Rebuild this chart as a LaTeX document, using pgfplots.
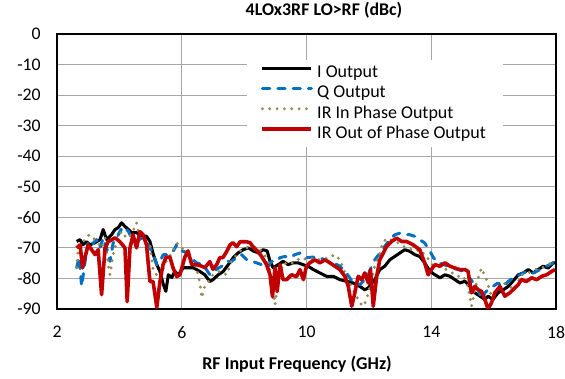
\documentclass[border=0pt]{standalone}
\usepackage{pgfplots}
\pgfplotsset{compat=1.18}
\usepackage{fontspec}
\setmainfont{Carlito}
\definecolor{qblue}{HTML}{0070C0}
\definecolor{olive}{HTML}{948A54}
\definecolor{irred}{HTML}{C00000}
\definecolor{gridgray}{HTML}{A6A6A6}
\begin{document}
\begin{tikzpicture}
\begin{axis}[
  name=ax,
  scale only axis,
  width=374.25pt, height=206.25pt,
  xmin=2, xmax=18, ymin=-90, ymax=0,
  xtick={2,6,10,14,18}, xticklabels={2,6,10,14,18},
  ytick={-90,-80,-70,-60,-50,-40,-30,-20,-10,0},
  yticklabels={-90,-80,-70,-60,-50,-40,-30,-20,-10,0},
  major tick length=0pt,
  grid=major,
  major grid style={gridgray, line width=0.75pt},
  axis line style={black, line width=1.6pt},
  ticklabel style={font=\fontsize{13.3}{15}\selectfont},
  yticklabel style={xshift=-8.7pt},
  xticklabel style={yshift=-9.5pt},
  title={4LOx3RF LO>RF (dBc)},
  title style={font=\fontsize{13.4}{15}\selectfont\bfseries, at={(0.535,1.058)}, anchor=center},
  xlabel={RF Input Frequency (GHz)},
  xlabel style={font=\fontsize{13.5}{15}\selectfont\bfseries, at={(0.481,-0.2018)}, anchor=center},
  legend cell align=left,
  legend style={at={(0.3808,0.9055)}, anchor=north west, draw=none, fill=white,
    inner xsep=10pt, inner ysep=3.5pt, row sep=2.4pt,
    font=\fontsize{13.5}{15}\selectfont,
    nodes={inner xsep=3pt, inner ysep=0pt, text height=9.6pt, text depth=3.2pt}},
  legend image code/.code={\draw[#1] (0pt,3.9pt) -- (36.75pt,3.9pt);},
  every axis plot/.append style={line join=round},
]
\addplot[black, line width=2.3pt] coordinates {
(2.63,-67.9)(2.74,-67.3)(2.83,-69)(2.95,-68)(3.06,-69)(3.22,-68.3)(3.38,-67.3)(3.48,-64)(3.59,-67.3)(3.75,-65.7)(3.86,-64)(3.96,-63.4)(4.07,-61.8)(4.18,-63)(4.29,-64)(4.39,-65)(4.55,-65)(4.71,-66.2)(4.87,-66.2)(4.98,-67.9)(5.09,-72.2)(5.2,-75.5)(5.3,-77.7)(5.41,-82)(5.49,-84.2)(5.57,-78.8)(5.68,-79.7)(5.78,-77.7)(5.89,-78.8)(6.05,-76.5)(6.16,-76.5)(6.37,-76.5)(6.58,-77.7)(6.74,-78.8)(6.9,-81)(7.0,-80.4)(7.17,-78.8)(7.33,-77.7)(7.49,-75.5)(7.65,-73.2)(7.81,-71.6)(7.97,-70.6)(8.13,-70)(8.29,-71)(8.45,-71.6)(8.61,-70.6)(8.74,-71)(8.83,-74.4)(8.93,-76.5)(9.09,-75.5)(9.25,-74.4)(9.41,-75.5)(9.57,-74.9)(9.73,-74.9)(9.89,-75.5)(10.05,-76)(10.22,-77.1)(10.43,-78.2)(10.64,-79.3)(10.86,-79.3)(11.07,-80.4)(11.28,-80.9)(11.5,-81.5)(11.71,-82.6)(11.87,-83.7)(11.98,-83.1)(12.09,-81.5)(12.19,-80.4)(12.35,-77.1)(12.51,-76)(12.67,-73.9)(12.83,-72.8)(12.99,-71.7)(13.15,-70.6)(13.31,-71.1)(13.47,-72.2)(13.63,-72.8)(13.79,-74.9)(13.96,-77.7)(14.12,-78.8)(14.28,-79.8)(14.44,-78.8)(14.6,-79.3)(14.76,-80.4)(14.92,-81.5)(15.08,-80.9)(15.24,-82.6)(15.4,-84.7)(15.56,-85.8)(15.72,-86.9)(15.82,-85.8)(15.98,-86.9)(16.14,-84.7)(16.31,-83.7)(16.47,-82.6)(16.62,-80.9)(16.79,-78.8)(16.95,-78.2)(17.11,-77.1)(17.27,-78.2)(17.43,-77.1)(17.59,-76)(17.75,-76.6)(17.91,-74.9)(18.0,-74.9)
};
\addlegendentry{I Output}
\addplot[qblue, line width=2.25pt, line cap=round, dash pattern=on 5.5pt off 6pt] coordinates {
(2.63,-76.5)(2.71,-73)(2.79,-82.6)(2.9,-74.4)(3.0,-67.9)(3.11,-69)(3.27,-67.3)(3.38,-70)(3.48,-66.8)(3.59,-70)(3.7,-74.4)(3.8,-68.4)(3.91,-66.8)(4.02,-64.6)(4.12,-63)(4.29,-64.6)(4.39,-66.8)(4.55,-67.9)(4.71,-66.8)(4.87,-67.9)(4.98,-70)(5.09,-72.2)(5.2,-75.5)(5.3,-74.4)(5.41,-72.2)(5.57,-72.2)(5.73,-71)(5.84,-69)(6.0,-71)(6.16,-71.5)(6.26,-73.2)(6.48,-74.9)(6.69,-75.5)(6.9,-78.8)(7.12,-77)(7.28,-76)(7.44,-74.4)(7.6,-74.4)(7.76,-73.2)(7.92,-72.2)(8.08,-73.8)(8.24,-74.4)(8.4,-74.9)(8.56,-75.5)(8.67,-76.5)(8.77,-76)(8.88,-74.4)(9.04,-74.4)(9.15,-73.2)(9.31,-72.8)(9.47,-73.2)(9.63,-72.2)(9.79,-71.7)(10.0,-73.2)(10.22,-73)(10.43,-73.2)(10.64,-74.2)(10.86,-74.9)(11.07,-76)(11.28,-78.2)(11.5,-81.5)(11.71,-82)(11.87,-80.4)(11.98,-78.8)(12.09,-76)(12.19,-73.9)(12.35,-71.7)(12.51,-69.5)(12.67,-67.3)(12.83,-65.7)(12.99,-65.2)(13.15,-65.7)(13.31,-65.7)(13.47,-66.2)(13.63,-67.3)(13.79,-68.4)(13.96,-71.1)(14.07,-73.2)(14.23,-74.9)(14.39,-75.4)(14.55,-76)(14.71,-76.6)(14.87,-77.1)(15.03,-77.7)(15.19,-79.3)(15.35,-81.5)(15.51,-83.7)(15.61,-86.9)(15.72,-84.7)(15.82,-83.7)(15.98,-82.6)(16.14,-81.5)(16.31,-82.6)(16.47,-81)(16.62,-79.8)(16.84,-78.8)(17.05,-77.7)(17.27,-78.2)(17.49,-77.1)(17.7,-76)(17.91,-74.9)(18.0,-74.4)
};
\addlegendentry{Q Output}
\addplot[olive, line width=2.4pt, line cap=round, dash pattern=on 0pt off 5.5pt] coordinates {
(2.63,-76.5)(2.68,-70)(2.79,-69)(2.95,-66.2)(3.06,-65.7)(3.27,-67.9)(3.43,-70)(3.54,-66.8)(3.64,-75.5)(3.7,-78.8)(3.8,-72.2)(3.91,-67.9)(4.07,-64.6)(4.23,-66.8)(4.39,-65.7)(4.55,-61.8)(4.66,-66.8)(4.82,-67.3)(4.98,-69)(5.09,-77.7)(5.2,-78.8)(5.3,-79.7)(5.4,-77)(5.5,-74.4)(5.68,-71.6)(5.84,-68.4)(6.05,-70.5)(6.21,-72)(6.3,-74.4)(6.48,-76.5)(6.58,-81.5)(6.64,-86.4)(6.74,-82.5)(6.85,-81)(7.0,-78.8)(7.22,-77.7)(7.44,-78.8)(7.6,-74.4)(7.76,-72.2)(7.92,-70.6)(8.08,-70)(8.24,-69.6)(8.45,-70)(8.61,-71.6)(8.77,-74.4)(8.88,-79.7)(8.99,-88.6)(9.09,-81)(9.25,-74.9)(9.47,-75.5)(9.63,-74.4)(9.84,-73.2)(10.05,-74)(10.22,-73.3)(10.43,-73.9)(10.7,-73.3)(10.91,-72.2)(11.07,-73.9)(11.28,-79.3)(11.5,-83.7)(11.71,-88)(11.82,-89.1)(11.93,-86.9)(12.03,-82.6)(12.19,-76)(12.35,-71.7)(12.46,-67.9)(12.62,-66.8)(12.78,-67.9)(12.94,-68.4)(13.1,-69.5)(13.26,-70)(13.47,-71.1)(13.63,-70.6)(13.85,-72.8)(14.01,-75.5)(14.17,-76)(14.39,-76.6)(14.6,-77.7)(14.82,-79.3)(15.03,-79.3)(15.19,-83)(15.29,-89.1)(15.45,-81.5)(15.61,-76.6)(15.77,-80.4)(15.93,-85.8)(16.09,-83.7)(16.31,-81.5)(16.52,-82.6)(16.68,-83.7)(16.89,-78.8)(17.11,-78.2)(17.32,-77.1)(17.54,-76.6)(17.75,-75.5)(17.97,-73.9)
};
\addlegendentry{IR In Phase Output}
\addplot[irred, line width=2.7pt] coordinates {
(2.63,-70)(2.74,-69)(2.82,-76.5)(2.9,-73)(3.0,-69)(3.11,-70.6)(3.22,-72.2)(3.32,-70.6)(3.43,-85.3)(3.54,-70)(3.64,-68)(3.86,-66.7)(4.02,-68)(4.18,-70)(4.25,-87.6)(4.34,-70)(4.44,-65.7)(4.55,-70)(4.66,-64.7)(4.76,-65.7)(4.87,-69)(4.98,-81)(5.08,-81)(5.2,-89.5)(5.3,-81)(5.4,-75.5)(5.5,-73)(5.62,-73)(5.72,-76.5)(5.84,-79.4)(5.94,-78.8)(6.1,-73)(6.2,-71)(6.32,-75.5)(6.48,-75.5)(6.64,-76)(6.74,-76.5)(6.9,-74.5)(7.0,-77)(7.12,-75.5)(7.22,-73.2)(7.32,-73.2)(7.44,-71.2)(7.55,-69)(7.64,-68.3)(7.76,-69.6)(7.87,-68)(7.96,-68)(8.08,-68)(8.19,-68.3)(8.28,-69.6)(8.44,-71.2)(8.56,-72.8)(8.72,-75.5)(8.83,-78.8)(8.91,-86)(8.99,-76.5)(9.06,-84.3)(9.15,-75.5)(9.25,-80.4)(9.36,-80.4)(9.52,-78.8)(9.68,-79.4)(9.79,-77.1)(9.9,-80.4)(10.0,-76)(10.1,-74.9)(10.27,-73.9)(10.43,-74.9)(10.59,-73.9)(10.75,-74.9)(10.91,-76)(11.07,-77.1)(11.23,-79.3)(11.34,-82.6)(11.45,-89.1)(11.55,-84.7)(11.61,-81.5)(11.66,-79.3)(11.77,-80.4)(11.87,-78.2)(11.98,-81.5)(12.05,-77.1)(12.14,-89.1)(12.25,-79.3)(12.35,-73.9)(12.46,-71.7)(12.57,-69.5)(12.73,-67.9)(12.89,-66.8)(13.05,-67.9)(13.21,-67.9)(13.42,-69)(13.63,-70.6)(13.79,-74.9)(13.9,-78.8)(14.0,-77.1)(14.12,-75.5)(14.28,-76)(14.44,-74.9)(14.6,-76)(14.76,-76.6)(14.92,-77.1)(15.08,-77.1)(15.18,-77.7)(15.29,-84.7)(15.4,-82.6)(15.5,-83.7)(15.61,-84.2)(15.72,-86.9)(15.82,-90)(15.93,-88)(16.04,-84.7)(16.2,-82.6)(16.36,-85.8)(16.52,-84.7)(16.62,-83.7)(16.79,-82)(16.89,-80.4)(17.05,-81)(17.22,-79.8)(17.38,-80.4)(17.54,-79.3)(17.7,-78.8)(17.86,-77.7)(17.97,-77.1)
};
\addlegendentry{IR Out of Phase Output}
\end{axis}
\pgfresetboundingbox
\path[use as bounding box] ([shift={(-42.75pt,-52.5pt)}]ax.south west) rectangle ([shift={(6.75pt,25.5pt)}]ax.north east);
\end{tikzpicture}
\end{document}
